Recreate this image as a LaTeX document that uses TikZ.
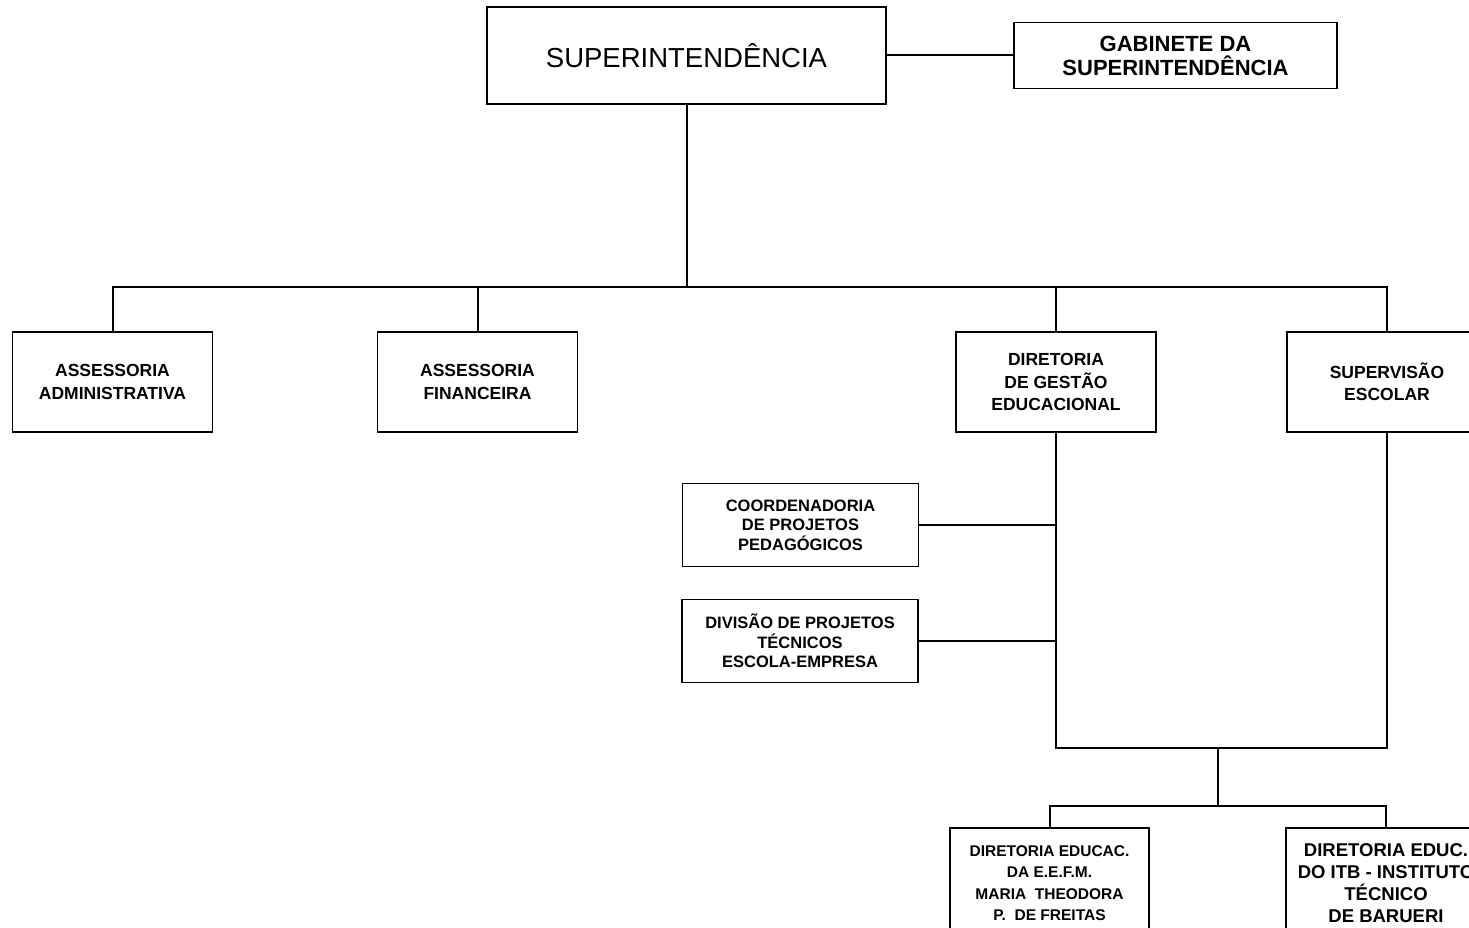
\documentclass[tikz,border=0pt]{standalone}
\usepackage{fontspec}
\setmainfont{Liberation Sans}
\usepackage{tikz}
\usetikzlibrary{calc,positioning}

\begin{document}
\begin{tikzpicture}
    [x=1pt, y=-1pt, line width=2pt, line/.style={draw=black, line width=2pt},
    border/.style={draw=black, line width=1.8pt}]
    % Define styles for the boxes of the chart
    \tikzstyle{block} = [draw, fill=white, rectangle, align=center, inner sep=0pt, border,
        font=\bfseries\fontsize{17.5}{22.5}\selectfont]
    \tikzstyle{topblock} = [block, minimum width=399pt, minimum height=97pt,
        font=\fontsize{27.5}{30}\selectfont]
    \tikzstyle{unit} = [block, minimum width=200pt, minimum height=100pt]
    \tikzstyle{subunit} = [block, minimum width=236pt, minimum height=83pt,
        font=\bfseries\fontsize{16.5}{19.5}\selectfont]
    \tikzstyle{school} = [block, minimum width=199pt, minimum height=110pt,
        font=\bfseries\fontsize{15.5}{21.5}\selectfont]
    \tikzstyle{junction} = [coordinate]

    \useasboundingbox (0,0) rectangle (1469,928);

    % Nodes placement
    \node [topblock] (super) at (686.5,55.5) {SUPERINTENDÊNCIA};
    \node [block, minimum width=323pt, minimum height=66pt,
        font=\bfseries\fontsize{22}{24}\selectfont] (gabinete) at (1175.5,55.5)
        {GABINETE DA\\SUPERINTENDÊNCIA};

    \node [unit] (admin) at (112.5,382) {ASSESSORIA\\ADMINISTRATIVA};
    \node [unit] (financ) at (477.5,382) {ASSESSORIA\\FINANCEIRA};
    \node [unit] (gestao) at (1056,382) {DIRETORIA\\DE GESTÃO\\EDUCACIONAL};
    \node [unit] (supervisao) at (1387,382) {SUPERVISÃO\\ESCOLAR};

    \node [subunit] (coord) at (800.5,525) {COORDENADORIA\\DE PROJETOS\\PEDAGÓGICOS};
    \node [subunit] (divisao) at (800,641) {DIVISÃO DE PROJETOS\\TÉCNICOS\\ESCOLA-EMPRESA};

    \node [school] (eefm) at (1049.5,883)
        {DIRETORIA EDUCAC.\\DA E.E.F.M.\\MARIA\ \ THEODORA\\P.\ \ DE FREITAS};
    \node [school, minimum width=200pt, font=\bfseries\fontsize{18.5}{22}\selectfont]
        (itb) at (1386,883)
        {DIRETORIA EDUC.\\DO ITB - INSTITUTO\\TÉCNICO\\DE BARUERI};

    \node [junction] (bus) at (686.5,287) {};
    \node [junction] (join) at (1218,748) {};
    \node [junction] (split) at (1218,806) {};

    % Draw edges
    \draw[line] (super.east) -- (gabinete.west);
    \draw[line] (super.south) -- (bus);
    \draw[line] (admin.north) |- (bus) -| (supervisao.north);
    \draw[line] (financ.north) -- (financ.north |- bus);
    \draw[line] (gestao.north) -- (gestao.north |- bus);

    % Lower branch under the educational board
    \draw[line] (gestao.south) |- (join) -| (supervisao.south);
    \draw[line] (coord.east) -- (coord.east -| gestao.south);
    \draw[line] (divisao.east) -- (divisao.east -| gestao.south);
    \draw[line] (join) -- (split);
    \draw[line] (eefm.north) |- (split) -| (itb.north);
\end{tikzpicture}
\end{document}
